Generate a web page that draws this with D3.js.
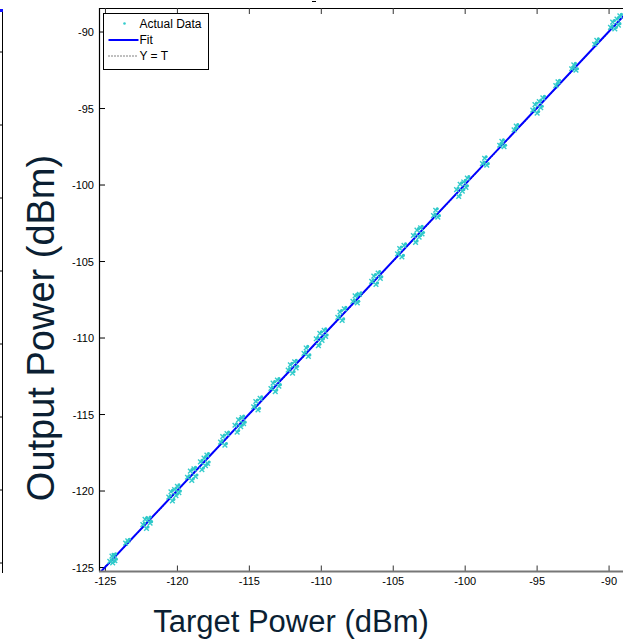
<!DOCTYPE html>
<html>
<head>
<meta charset="utf-8">
<script src="https://cdn.jsdelivr.net/npm/d3@7"></script>
<style>
  body { margin: 0; background: #fff; }
  svg { display: block; }
  .tick-label { font-family: "Liberation Sans Narrow", "Liberation Sans", Arial, sans-serif; font-size: 11px; fill: #000; }
  .legend-label { font-family: "Liberation Sans Narrow", "Liberation Sans", Arial, sans-serif; font-size: 12px; fill: #000; }
  .axis-title { font-family: "Liberation Sans", Arial, sans-serif; fill: #0b1f33; }
</style>
</head>
<body>
<svg id="chart" width="623" height="642"></svg>
<script>
// measured pairs (target power, output power), dBm
const targetPower = [
  -124.7, -124.55, -124.5, -124.4, -124.35,
  -123.6, -123.45,
  -122.4, -122.25, -122.15, -122.0, -121.9,
  -120.6, -120.45, -120.35, -120.2, -120.1, -120.0, -119.9,
  -119.3, -119.1, -119.0, -118.85, -118.75,
  -118.4, -118.3, -118.15, -118.05, -117.95, -117.9,
  -117.0, -116.85, -116.7, -116.55,
  -116.0, -115.85, -115.75, -115.6, -115.5, -115.4,
  -114.7, -114.55, -114.4, -114.25,
  -113.5, -113.35, -113.2, -113.05, -112.95,
  -112.3, -112.15, -112.0, -111.85, -111.75,
  -111.2, -111.05, -110.9,
  -110.35, -110.2, -110.1, -109.95, -109.8, -109.7,
  -108.85, -108.7, -108.55, -108.4,
  -107.8, -107.65, -107.5, -107.35,
  -106.5, -106.35, -106.2, -106.05, -105.9,
  -104.7, -104.55, -104.4, -104.25,
  -103.6, -103.45, -103.35, -103.2, -103.1, -103.0,
  -102.2, -102.05, -101.9,
  -100.6, -100.45, -100.35, -100.2, -100.1, -99.95, -99.85,
  -98.8, -98.65, -98.5,
  -97.6, -97.45, -97.3,
  -96.6, -96.45,
  -95.3, -95.15, -95.0, -94.85, -94.75, -94.6,
  -93.7, -93.55,
  -92.6, -92.45, -92.3,
  -91.0, -90.85,
  -89.9, -89.75, -89.6, -89.45, -89.35, -89.25
];
const outputPower = [
  -124.6, -124.25, -124.7, -124.2, -124.55,
  -123.4, -123.25,
  -122.2, -121.85, -122.45, -121.8, -122.1,
  -120.4, -120.05, -120.65, -119.9, -120.3, -119.7, -120.1,
  -119.1, -118.7, -119.3, -118.55, -119.05,
  -118.1, -118.6, -117.85, -118.35, -117.65, -118.2,
  -116.8, -116.45, -117.0, -116.25,
  -115.7, -116.15, -115.35, -115.8, -115.2, -115.6,
  -114.5, -114.15, -114.7, -113.95,
  -113.3, -112.95, -113.5, -112.75, -113.15,
  -112.1, -111.75, -112.3, -111.55, -111.95,
  -111.0, -110.65, -111.2,
  -110.05, -110.5, -109.7, -110.15, -109.5, -109.9,
  -108.65, -108.3, -108.85, -108.1,
  -107.6, -107.25, -107.7, -107.15,
  -106.3, -105.95, -106.5, -105.75, -106.1,
  -104.5, -104.15, -104.7, -103.95,
  -103.3, -103.75, -102.95, -103.4, -102.8, -103.2,
  -102.0, -101.65, -102.1,
  -100.3, -100.75, -99.95, -100.4, -99.8, -100.15, -99.55,
  -98.6, -98.25, -98.7,
  -97.4, -97.15, -97.5,
  -96.4, -96.15,
  -95.1, -94.75, -95.3, -94.55, -94.95, -94.3,
  -93.5, -93.25,
  -92.4, -92.15, -92.5,
  -90.8, -90.55,
  -89.7, -89.35, -89.8, -89.15, -89.55, -88.95
];
const fitCoef = [1.0, 0.05];          // slope, intercept
const xTicks = [-125, -120, -115, -110, -105, -100, -95, -90];
const yTicks = [-125, -120, -115, -110, -105, -100, -95, -90];
const legendLabels = ["Actual Data", "Fit", "Y = T"];
const xTitle = "Target Power (dBm)";
const yTitle = "Output Power (dBm)";

const svg = d3.select("#chart");
const L = 99, T = 8, B = 571.5, R = 640;

const x = d3.scaleLinear().domain([-125.45, -87.85]).range([L, R]);
const y = d3.scaleLinear().domain([-125.26, -88.43]).range([B, T]);

// neighbouring panel's right edge (cropped)
const nb = d3.scaleLinear().domain([0, 7]).range([52, 563]);
svg.append("line").attr("x1", 2.5).attr("x2", 2.5).attr("y1", 10).attr("y2", 573)
  .attr("stroke", "#000").attr("stroke-width", 1);
svg.selectAll(".nbtick").data(d3.range(0, 8)).enter().append("line")
  .attr("x1", 0).attr("x2", 2.5)
  .attr("y1", d => nb(d)).attr("y2", d => nb(d))
  .attr("stroke", "#000");
svg.append("rect").attr("x", 0).attr("y", 9).attr("width", 3).attr("height", 3).attr("fill", "#1010ff");

// cropped title fragment
svg.append("line").attr("x1", 312).attr("x2", 316).attr("y1", 1.5).attr("y2", 1.5).attr("stroke", "#000");

const plot = svg.append("g");
plot.append("defs").append("clipPath").attr("id", "clip")
  .append("rect").attr("x", L).attr("y", T).attr("width", R - L).attr("height", B - T);

// frame: top & left black, bottom grey
plot.append("line").attr("x1", L).attr("x2", R).attr("y1", T + 0.5).attr("y2", T + 0.5).attr("stroke", "#000");
plot.append("line").attr("x1", L + 0.5).attr("x2", L + 0.5).attr("y1", T).attr("y2", B).attr("stroke", "#000").attr("stroke-width", 1.2);

// ticks (inward)
plot.selectAll(".xt").data(xTicks).enter().append("line")
  .attr("x1", d => x(d)).attr("x2", d => x(d)).attr("y1", B).attr("y2", B - 6)
  .attr("stroke", "#333");
plot.selectAll(".xtt").data(xTicks).enter().append("line")
  .attr("x1", d => x(d)).attr("x2", d => x(d)).attr("y1", T).attr("y2", T + 6)
  .attr("stroke", "#333");
plot.selectAll(".yt").data(yTicks).enter().append("line")
  .attr("x1", L).attr("x2", L + 6).attr("y1", d => y(d)).attr("y2", d => y(d))
  .attr("stroke", "#000");

plot.selectAll(".xl").data(xTicks).enter().append("text")
  .attr("class", "tick-label")
  .attr("x", d => x(d)).attr("y", B + 13)
  .attr("text-anchor", "middle")
  .text(d => d);
plot.selectAll(".yl").data(yTicks).enter().append("text")
  .attr("class", "tick-label")
  .attr("x", L - 5).attr("y", d => y(d) + 4)
  .attr("text-anchor", "end")
  .text(d => d);

const body = plot.append("g").attr("clip-path", "url(#clip)");
const ends = x.domain();

// Y = T reference
body.append("line")
  .attr("x1", x(ends[0])).attr("y1", y(ends[0]))
  .attr("x2", x(ends[1])).attr("y2", y(ends[1]))
  .attr("stroke", "#000").attr("stroke-width", 1).attr("stroke-dasharray", "1,2");

// fit
body.append("line")
  .attr("x1", x(ends[0])).attr("y1", y(fitCoef[0] * ends[0] + fitCoef[1]))
  .attr("x2", x(ends[1])).attr("y2", y(fitCoef[0] * ends[1] + fitCoef[1]))
  .attr("stroke", "#0000ff").attr("stroke-width", 2);

const pts = targetPower.map((t, i) => [t, outputPower[i]]);
const cross = d3.symbol().type(d3.symbolTimes).size(16);
body.selectAll(".pt").data(pts).enter().append("path")
  .attr("d", cross)
  .attr("transform", d => `translate(${x(d[0])},${y(d[1])})`)
  .attr("fill", "none")
  .attr("stroke", "#33cccc").attr("stroke-width", 1.4);
body.selectAll(".pd").data(pts).enter().append("circle")
  .attr("cx", d => x(d[0]) + 1.5).attr("cy", d => y(d[1]) - 1.5).attr("r", 1.6)
  .attr("fill", "#2ec8c8");

// bottom axis line (grey)
plot.append("line").attr("x1", L).attr("x2", R).attr("y1", B).attr("y2", B)
  .attr("stroke", "#777").attr("stroke-width", 2);

// legend
const lg = plot.append("g").attr("transform", "translate(103.5,13.5)");
lg.append("rect").attr("width", 105).attr("height", 56).attr("fill", "#fff").attr("stroke", "#000").attr("stroke-width", 1);
lg.append("circle").attr("cx", 21).attr("cy", 10).attr("r", 1.3).attr("fill", "#33cccc");
lg.append("line").attr("x1", 5).attr("x2", 35).attr("y1", 26.5).attr("y2", 26.5).attr("stroke", "#0000ff").attr("stroke-width", 2);
lg.append("line").attr("x1", 5).attr("x2", 35).attr("y1", 42.5).attr("y2", 42.5).attr("stroke", "#000").attr("stroke-dasharray", "1,2");
lg.selectAll(".lt").data(legendLabels).enter().append("text")
  .attr("class", "legend-label")
  .attr("x", 36).attr("y", (d, i) => 14.5 + i * 16)
  .text(d => d);

// axis titles
svg.append("text").attr("class", "axis-title")
  .attr("x", 291).attr("y", 632)
  .attr("text-anchor", "middle").attr("font-size", 31)
  .text(xTitle);
svg.append("text").attr("class", "axis-title")
  .attr("transform", "translate(54,328) rotate(-90)")
  .attr("text-anchor", "middle").attr("font-size", 38)
  .text(yTitle);
</script>
</body>
</html>
